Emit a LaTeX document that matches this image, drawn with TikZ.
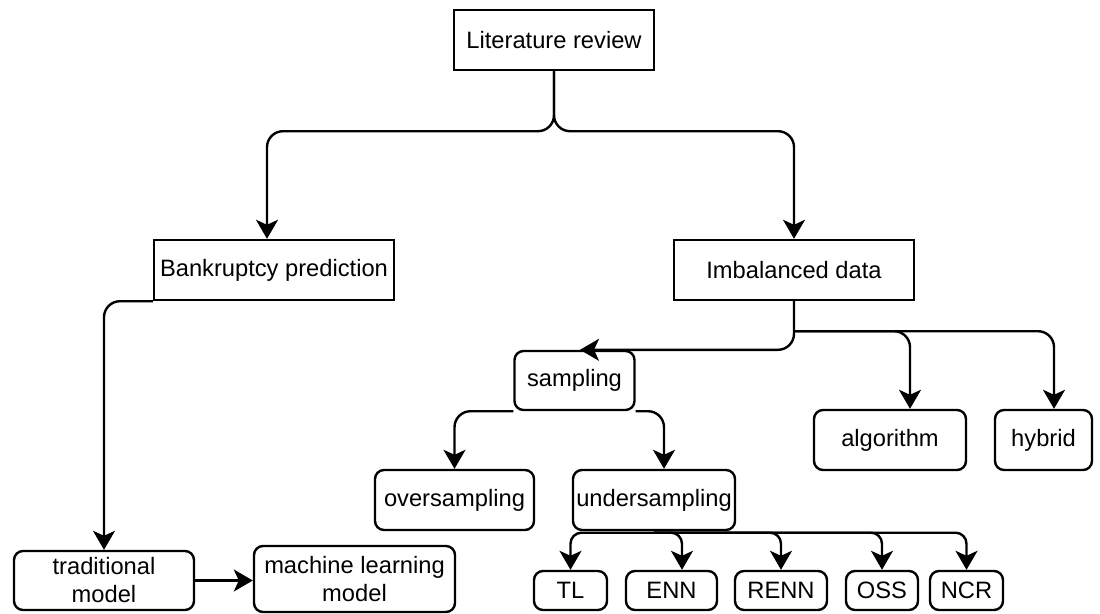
\documentclass[tikz,border=0pt]{standalone}
\usepackage{fontspec}
\setmainfont{Liberation Sans}
\usetikzlibrary{calc,arrows.meta}

\begin{document}
\begin{tikzpicture}[x=1pt, y=-1pt,
    boite/.style={draw, line width=2.4pt, inner xsep=2pt, inner ysep=1pt, align=center, font=\fontsize{23.7}{28}\selectfont},
    boiteronde/.style={boite, rounded corners=9pt},
    fleche/.style={line width=2.4pt, rounded corners=16pt, -{Stealth[length=19pt,width=22pt,inset=5pt]}}]
    \useasboundingbox (0,0) rectangle (1100,613);

    %% les blocs
    \node [boite, minimum width=200pt, minimum height=60pt] (revue) at (554,40) {Literature review};
    \node [boite, minimum width=240pt, minimum height=60pt] (faillite) at (274,270) {Bankruptcy prediction};
    \node [boite, minimum width=240pt, minimum height=60pt] (desequilibre) at (794,270) {Imbalanced data};
    \node [boiteronde, minimum width=120pt, minimum height=59pt] (sampling) at (574.5,380.5) {sampling};
    \node [boiteronde, minimum width=152pt, minimum height=60pt] (algorithm) at (890,440) {algorithm};
    \node [boiteronde, minimum width=97pt, minimum height=60pt] (hybrid) at (1043.5,440) {hybrid};
    \node [boiteronde, minimum width=159pt, minimum height=60pt] (over) at (454.5,500) {oversampling};
    \node [boiteronde, minimum width=162pt, minimum height=60pt] (under) at (654,500) {undersampling};
    \node [boiteronde, minimum width=180pt, minimum height=59pt] (trad) at (104,580.5) {traditional\\model};
    \node [boiteronde, minimum width=201pt, minimum height=66pt] (ml) at (354.5,579) {machine learning\\model};
    \foreach \nom/\x/\largeur in {TL/570.5/73, ENN/671.5/91, RENN/781/92, OSS/882/72, NCR/966.5/73}
        \node [boiteronde, minimum width=\largeur pt, minimum height=39pt] (\nom) at (\x,590.5) {\nom};

    %% revue de litterature
    \draw [fleche] (revue.south) -- ++(0,60) -| ([xshift=-7pt]faillite.north);
    \draw [fleche] (revue.south) -- ++(0,60) -| (desequilibre.north);

    %% prediction de faillite
    \draw [fleche] (faillite.south west) -| (trad.north);
    \draw [fleche] (trad.east) -- (trad.east -| ml.west);

    %% donnees desequilibrees
    \draw [fleche] (desequilibre.south) |- ([xshift=5.5pt]sampling.north);
    \coordinate (fourche) at ($(desequilibre.south)+(0,30)$);
    \draw [fleche] (fourche) -| ([xshift=20pt]algorithm.north);
    \draw [fleche] (fourche) -| ([xshift=10.5pt]hybrid.north);

    %% echantillonnage
    \draw [fleche] (sampling.south west) -| (over.north);
    \draw [fleche] (sampling.south east) -| ([xshift=10pt]under.north);
    \coordinate (bus) at ($(under.south)+(0,1.5)$);
    \foreach \nom/\dx in {TL/0, ENN/10.5, RENN/0, OSS/0, NCR/0}
        \draw [fleche, rounded corners=11pt] (bus) -| ([xshift=\dx pt]\nom.north);
\end{tikzpicture}
\end{document}
